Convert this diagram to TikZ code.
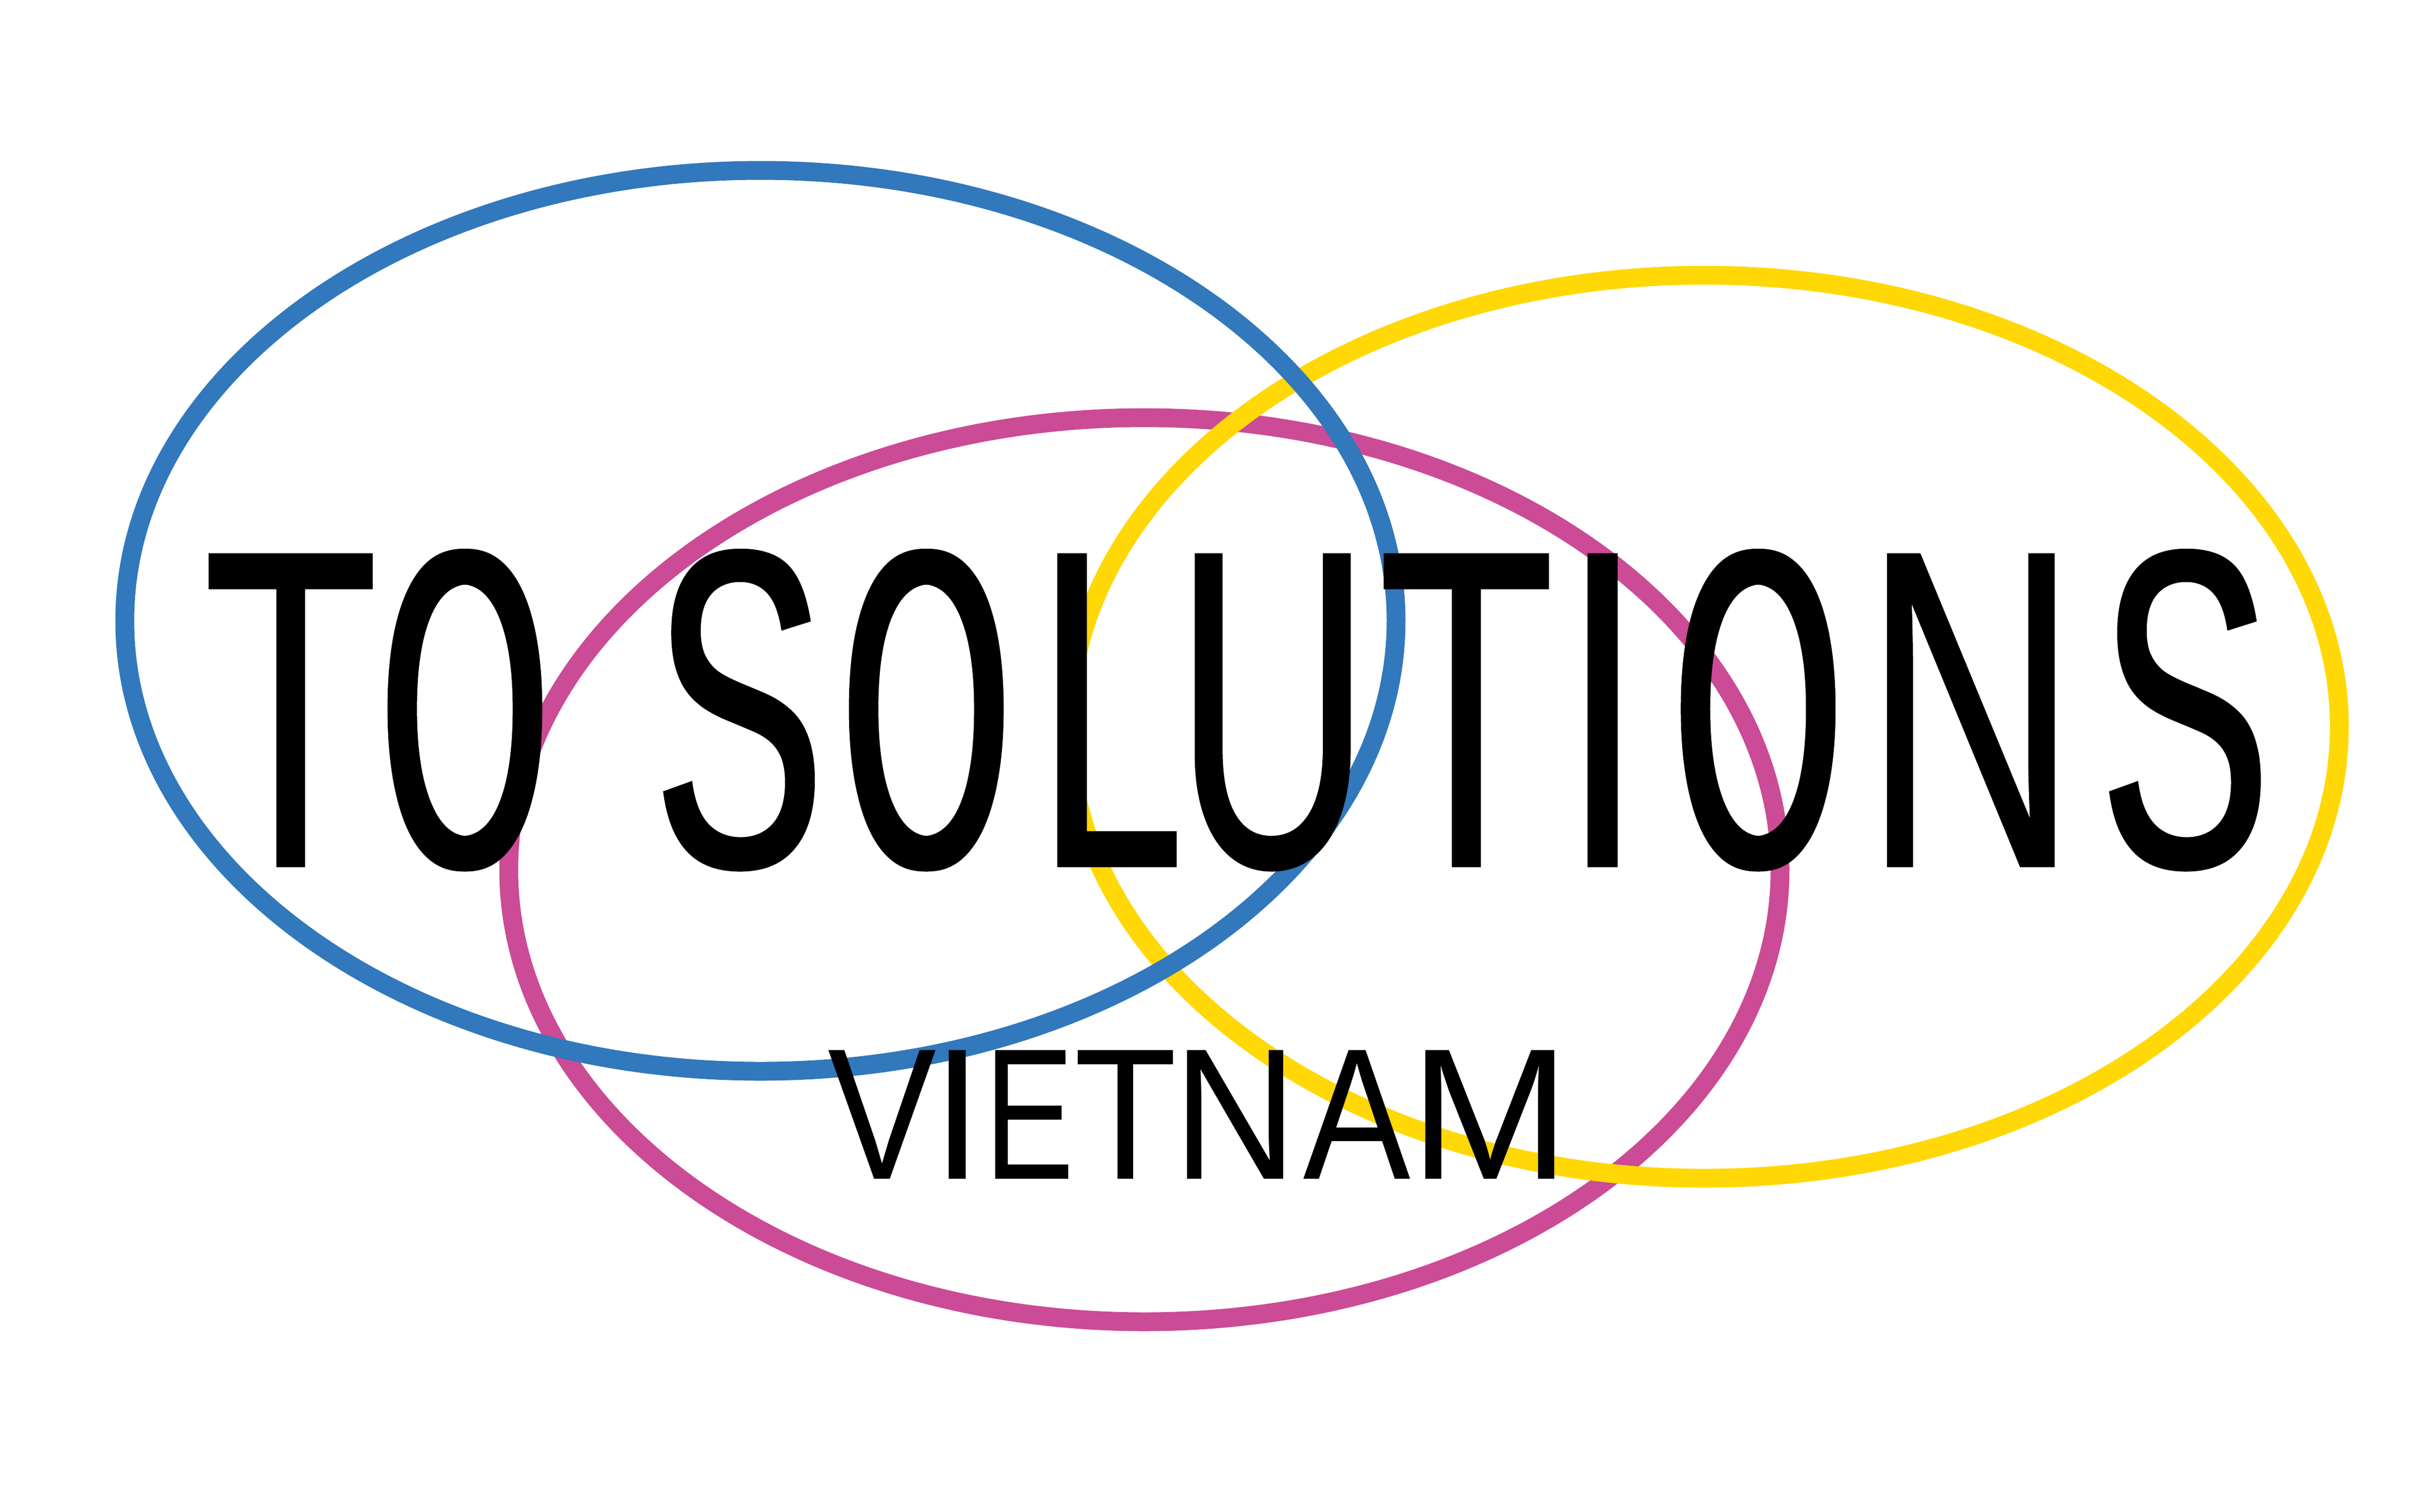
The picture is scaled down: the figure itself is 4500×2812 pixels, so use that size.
\documentclass[tikz,border=0pt]{standalone}
\usepackage{fontspec}
\setmainfont{Liberation Sans}
% #1 origin, #2 font stretch, #3 further horizontal scale (widens the stems only), #4 letter
\newcommand\glyphat[4]{\rlap{\kern#1pt\scalebox{#3}[1]{\addfontfeature{FakeStretch=#2,FakeBold=0.3}#4}}}
\newcommand\plainglyph[3]{\rlap{\kern#1pt\scalebox{#2}[1]{#3}}}
\definecolor{ringblue}{HTML}{3178BC}
\definecolor{ringyellow}{HTML}{FFD805}
\definecolor{ringmagenta}{HTML}{CB4B96}
\tikzset{ring/.style={line width=3.5pt},
 wordmark/.style={inner sep=0pt,outer sep=0pt,text=black,anchor=base west}}
\begin{document}
\begin{tikzpicture}[x=0.1pt,y=-0.1pt]
\path[use as bounding box,fill=white] (0,0) rectangle (4500,2812);
\draw[ring,ringmagenta] (2128,1618) ellipse [x radius=1182,y radius=841];
\draw[ring,ringyellow] (3169,1352) ellipse [x radius=1181,y radius=840];
\draw[ring,ringblue] (1414,1155) ellipse [x radius=1182,y radius=838];
\node[wordmark,font=\fontsize{84.5pt}{90pt}\selectfont] (title) at (0,1612) {%
\glyphat{37.3}{.394}{1.6}{T}\glyphat{70.55}{.069}{6.8}{O}%
\glyphat{121.3}{.1156}{4.8}{S}\glyphat{156.35}{.069}{6.8}{O}\glyphat{192.7}{.142}{4}{L}\glyphat{218.05}{.297}{2}{U}%
\glyphat{255.8}{.397}{1.6}{T}\glyphat{289.6}{.675}{1}{I}\glyphat{311.05}{.069}{6.8}{O}\glyphat{346}{.655}{1}{N}\glyphat{390.2}{.1156}{4.8}{S}};
\node[wordmark,font=\fontsize{34.8pt}{38pt}\selectfont] (country) at (0,2193) {%
\plainglyph{153.5}{.87}{V}\plainglyph{172.9}{.97}{I}\plainglyph{182.6}{.72}{E}\plainglyph{199.3}{.90}{T}%
\plainglyph{217.7}{.92}{N}\plainglyph{241.9}{.86}{A}\plainglyph{261.7}{1.03}{M}};
\end{tikzpicture}
\end{document}
